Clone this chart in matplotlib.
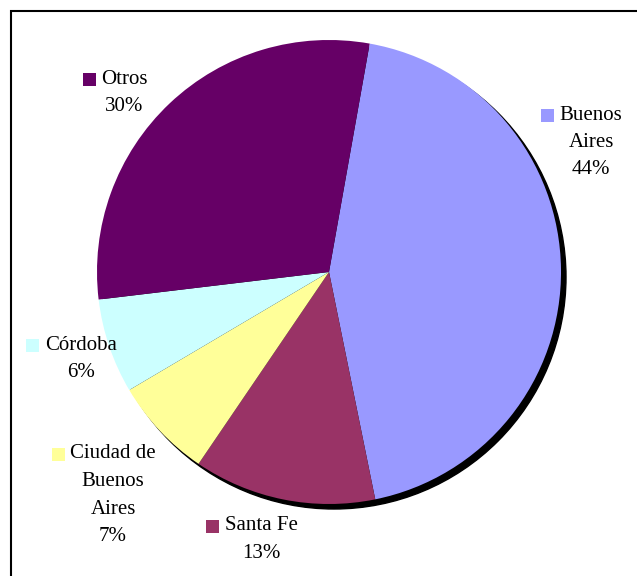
import matplotlib.pyplot as plt
from matplotlib.patches import Circle, Rectangle

# Shares by province (slice sizes; labels show rounded %)
labels = ["Buenos Aires", "Santa Fe", "Ciudad de Buenos Aires", "Córdoba", "Otros"]
values = [44.0, 12.7, 7.0, 6.6, 29.7]
pct_labels = ["44%", "13%", "7%", "6%", "30%"]
colors = ["#9999FF", "#993366", "#FFFF99", "#CCFFFF", "#660066"]

# label name lines, (text center x, first line y, key x) in pixels
name_lines = [
    ["Buenos", "Aires"],
    ["Santa Fe"],
    ["Ciudad de", "Buenos", "Aires"],
    ["Córdoba"],
    ["Otros"],
]
label_pos = [(591, 115, 541), (261, 526, 206), (113, 454, 52), (81, 345, 26), (124, 79, 83)]

W, H = 637, 576
plt.rcParams['font.family'] = ['Liberation Serif', 'DejaVu Serif']
fig = plt.figure(figsize=(W / 100, H / 100), dpi=100)

# outer frame (only left and top edges visible)
fig.patches.append(Rectangle((10.5 / W, -0.1), 2, 1.1 - 11.5 / H, fill=False,
                             edgecolor='black', linewidth=1.5, transform=fig.transFigure))

cx, cy, r = 329, 272, 232
ax = fig.add_axes([(cx - r) / W, (H - cy - r) / H, 2 * r / W, 2 * r / H])

# shadow
off = 5 / r
ax.add_patch(Circle((off, -off), 1, color='black', zorder=0, clip_on=False))
wedges, _ = ax.pie(values, colors=colors, startangle=79.9, counterclock=False, radius=1,
                   wedgeprops=dict(linewidth=0), frame=True)
for w in wedges:
    w.set_clip_on(False)
ax.axis('off')
ax.set_xlim(-1, 1)
ax.set_ylim(-1, 1)
ax.set_aspect('equal')

step = 27.5
for names, pct, (tx, ty, kx), col in zip(name_lines, pct_labels, label_pos, colors):
    for i, line in enumerate(names + [pct]):
        fig.text(tx / W, 1 - (ty + i * step) / H, line, ha='center', va='center',
                 fontsize=15, color='black')
    fig.patches.append(Rectangle((kx / W, 1 - (ty + 7) / H), 13 / W, 13 / H,
                                 facecolor=col, edgecolor='none', transform=fig.transFigure))

fig.savefig('out.png', dpi=100)
